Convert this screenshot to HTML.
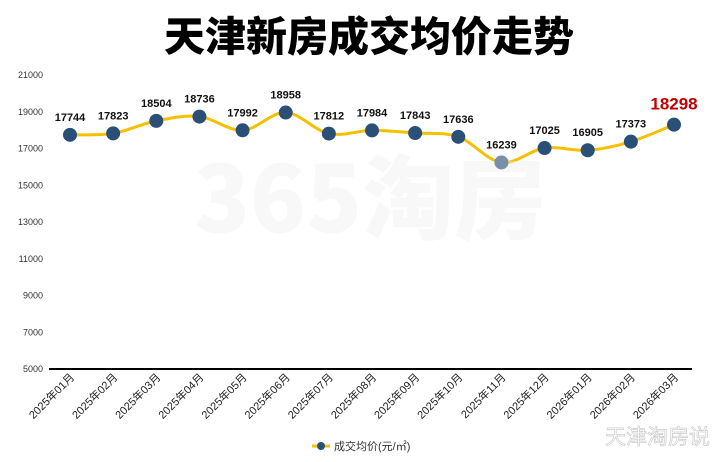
<!DOCTYPE html>
<html><head><meta charset="utf-8"><style>
body{margin:0;background:#fff;}
svg{display:block;font-family:"Liberation Sans","Noto Sans CJK SC",sans-serif;}
</style></head><body>
<svg width="719" height="462" viewBox="0 0 719 462">
<text x="369" y="51" text-anchor="middle" font-size="41" font-weight="900" fill="#000" font-family="'Noto Sans CJK SC',sans-serif">天津新房成交均价走势</text>
<g id="yaxis"></g>
<line x1="49" y1="369" x2="692" y2="369" stroke="#000" stroke-width="2"/>
<g id="xaxis"></g>
<path id="line" fill="none" stroke="#f5c000" stroke-width="3"/>
<g id="pts"></g>
<text x="370" y="232" text-anchor="middle" font-size="92" font-weight="900" fill="rgba(238,238,238,0.4)" font-family="'Noto Sans CJK SC',sans-serif">365淘房</text>
<g>
<line x1="312" y1="446" x2="330" y2="446" stroke="#f5c000" stroke-width="3"/>
<circle cx="321" cy="446" r="4" fill="#2a5078"/>
<text x="334" y="450" font-size="11" fill="#333">成交均价(元/㎡)</text>
</g>
<text x="710" y="444" text-anchor="end" font-size="21" fill="#fff" stroke="#ccc" stroke-width="0.7">天津淘房说</text>
</svg>
<script>
const categories=["2025年01月","2025年02月","2025年03月","2025年04月","2025年05月","2025年06月","2025年07月","2025年08月","2025年09月","2025年10月","2025年11月","2025年12月","2026年01月","2026年02月","2026年03月"];
const values=[17744,17823,18504,18736,17992,18958,17812,17984,17843,17636,16239,17025,16905,17373,18298];
const yTicks=[5000,7000,9000,11000,13000,15000,17000,19000,21000];
const NS="http://www.w3.org/2000/svg";
const y=v=>75+(21000-v)*(294/16000);
const x=i=>70+i*(604/14);
function el(t,a,p){const e=document.createElementNS(NS,t);for(const k in a)e.setAttribute(k,a[k]);p.appendChild(e);return e;}
const ya=document.getElementById('yaxis');
yTicks.forEach(t=>{const e=el('text',{x:43,y:y(t)+3,'text-anchor':'end','font-size':9,fill:'#333'},ya);


e.textContent=t;});
const xa=document.getElementById('xaxis');
categories.forEach((c,i)=>{const e=el('text',{x:x(i)+5,y:378,'text-anchor':'end','font-size':11,fill:'#222',transform:`rotate(-45 ${x(i)+5} 378)`},xa);


e.textContent=c;});
const P=values.map((v,i)=>[x(i),y(v)]);
let d=`M${P[0][0]},${P[0][1]}`;
for(let i=0;i<P.length-1;i++){const p0=P[Math.max(0,i-1)],p1=P[i],p2=P[i+1],p3=P[Math.min(P.length-1,i+2)];const t=0.17;
d+=` C${p1[0]+(p2[0]-p0[0])*t},${p1[1]+(p2[1]-p0[1])*t} ${p2[0]-(p3[0]-p1[0])*t},${p2[1]-(p3[1]-p1[1])*t} ${p2[0]},${p2[1]}`;}
document.getElementById('line').setAttribute('d',d);
const pts=document.getElementById('pts');
values.forEach((v,i)=>{const c=el('circle',{cx:x(i),cy:y(v),r:7,fill:'#2a5078'},pts);


const last=i===values.length-1;
const t=el('text',{x:x(i),y:y(v)-(last?15:14),'text-anchor':'middle','font-size':last?17:11,'font-weight':'bold',fill:last?'#c00000':'#111'},pts);


t.textContent=v;});
</script>
</body></html>
